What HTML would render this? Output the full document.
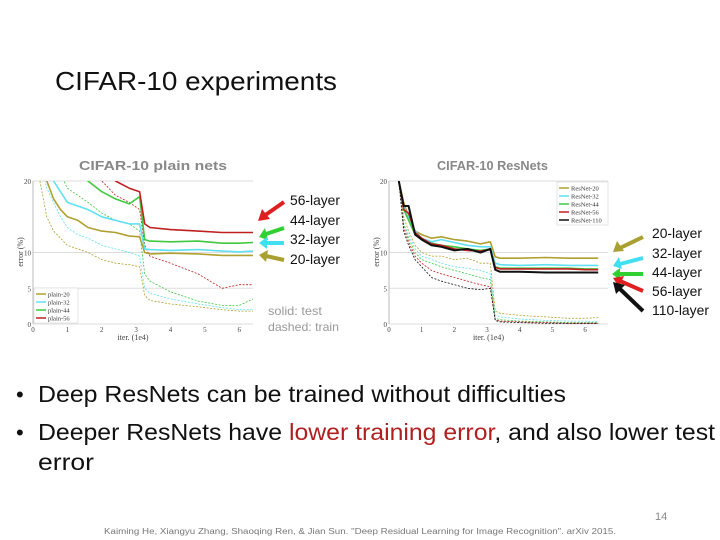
<!DOCTYPE html>
<html><head><meta charset="utf-8"><style>
html,body{margin:0;padding:0;background:#fff}
svg{display:block;font-family:"Liberation Sans",sans-serif}
</style></head><body>
<svg id="s" width="720" height="540" viewBox="0 0 720 540">
<text x="55" y="90" font-size="26" fill="#111" textLength="282" lengthAdjust="spacingAndGlyphs">CIFAR-10 experiments</text>

<text x="79" y="170" font-size="12.5" font-weight="bold" fill="#888" textLength="148" lengthAdjust="spacingAndGlyphs">CIFAR-10 plain nets</text>
<text x="437" y="170" font-size="12.5" font-weight="bold" fill="#888" textLength="111" lengthAdjust="spacingAndGlyphs">CIFAR-10 ResNets</text>

<g id="left"></g>
<g id="right"></g>

<g font-size="14" fill="#111">
<text x="290" y="205" textLength="50" lengthAdjust="spacingAndGlyphs">56-layer</text>
<text x="290" y="225" textLength="50" lengthAdjust="spacingAndGlyphs">44-layer</text>
<text x="290" y="244" textLength="50" lengthAdjust="spacingAndGlyphs">32-layer</text>
<text x="290" y="264" textLength="50" lengthAdjust="spacingAndGlyphs">20-layer</text>
</g>
<g stroke-width="4">
<line x1="284" y1="202" x2="264" y2="216" stroke="#e02020"/><polygon points="258,221 262,209 270,219" fill="#e02020"/>
<line x1="284" y1="228" x2="266" y2="234" stroke="#30d030"/><polygon points="259,237 265,228 268,240" fill="#30d030"/>
<line x1="284" y1="243" x2="266" y2="243" stroke="#40e0f0"/><polygon points="259,243 267,237 267,249" fill="#40e0f0"/>
<line x1="284" y1="260" x2="266" y2="256" stroke="#a8a030"/><polygon points="259,255 268,250 266,262" fill="#a8a030"/>
</g>
<text x="268" y="315" font-size="12" fill="#999" textLength="54" lengthAdjust="spacingAndGlyphs">solid: test</text>
<text x="268" y="331" font-size="12" fill="#999" textLength="71" lengthAdjust="spacingAndGlyphs">dashed: train</text>

<g font-size="14" fill="#111">
<text x="652" y="238" textLength="50" lengthAdjust="spacingAndGlyphs">20-layer</text>
<text x="652" y="258" textLength="50" lengthAdjust="spacingAndGlyphs">32-layer</text>
<text x="652" y="277" textLength="50" lengthAdjust="spacingAndGlyphs">44-layer</text>
<text x="652" y="296" textLength="50" lengthAdjust="spacingAndGlyphs">56-layer</text>
<text x="652" y="315" textLength="57" lengthAdjust="spacingAndGlyphs">110-layer</text>
</g>
<g stroke-width="4">
<line x1="643" y1="237" x2="620" y2="248" stroke="#a8a030"/><polygon points="613,252 617,241 624,251" fill="#a8a030"/>
<line x1="643" y1="258" x2="620" y2="264" stroke="#40e0f0"/><polygon points="613,266 619,257 622,269" fill="#40e0f0"/>
<line x1="643" y1="274" x2="619" y2="274" stroke="#30d030"/><polygon points="612,274 620,268 620,280" fill="#30d030"/>
<line x1="643" y1="291" x2="620" y2="281" stroke="#e02020"/><polygon points="613,278 624,276 619,287" fill="#e02020"/>
<line x1="643" y1="311" x2="620" y2="289" stroke="#111"/><polygon points="613,282 625,285 616,294" fill="#111"/>
</g>

<text x="16" y="402" font-size="22" fill="#111">•</text>
<text x="38" y="402" font-size="23" fill="#111" textLength="528" lengthAdjust="spacingAndGlyphs">Deep ResNets can be trained without difficulties</text>
<text x="16" y="440" font-size="22" fill="#111">•</text>
<text x="38" y="440" font-size="23" fill="#111" textLength="677" lengthAdjust="spacingAndGlyphs">Deeper ResNets have <tspan fill="#b02020">lower training error</tspan>, and also lower test</text>
<text x="38" y="470" font-size="23" fill="#111" textLength="56" lengthAdjust="spacingAndGlyphs">error</text>
<text x="655" y="520" font-size="11" fill="#888">14</text>
<text x="104" y="534" font-size="8" fill="#777" textLength="512" lengthAdjust="spacingAndGlyphs">Kaiming He, Xiangyu Zhang, Shaoqing Ren, &amp; Jian Sun. "Deep Residual Learning for Image Recognition". arXiv 2015.</text>
</svg>
<script>
// ---- plain nets data (iter in 1e4, error %) ----
const plainIters = [0.2,0.4,0.6,0.8,1.0,1.3,1.6,2.0,2.4,2.8,3.1,3.25,3.4,4.0,4.8,5.5,6.0,6.4];
const plain20Test  = [23,20,17.5,16,15,14.5,13.5,13,12.8,12.3,12.2,10,9.8,9.9,9.8,9.6,9.6,9.6];
const plain32Test  = [26,24,20,18.5,17,16.5,16,15,14.5,14,14,10.5,10.4,10.3,10.4,10.2,10.1,10.2];
const plain44Test  = [30,28,26,25,24,22,20,18.5,17.5,16.8,17.8,11.8,11.6,11.5,11.6,11.3,11.3,11.4];
const plain56Test  = [32,30,28,27,26,25,24,22,20,19,18.5,14,13.5,13.2,13,12.8,12.8,12.8];
const plain20Train = [20,15,13,12,11,10.5,10,9,8.5,8.3,8,4,3.3,2.8,2.4,2.0,1.8,1.8];
const plain32Train = [23,19,17,15,13.5,12.5,12,11,10.5,10,9.5,5,4.3,3.5,2.8,2.3,2.0,2.0];
const plain44Train = [28,25,23,21,19,18,17,15.5,14.5,14,13,7,6,4.5,3.2,2.6,2.6,3.5];
const plain56Train = [32,30,28,26,24,23,21.5,20,18,17,16,11,9.5,8.5,7,5,5.5,5.5];
// ---- resnets data ----
const resIters = [0.3,0.45,0.6,0.8,1.0,1.3,1.6,2.0,2.4,2.8,3.1,3.25,3.4,4.0,4.8,5.5,6.0,6.4];
const res20Test  = [20,17,15,13,12.5,12,12.2,11.8,11.6,11.2,11.5,9.4,9.2,9.2,9.3,9.2,9.2,9.2];
const res32Test  = [20,16.5,15,13,12,11.5,11.8,11.4,11,10.8,10.8,8.5,8.3,8.2,8.3,8.2,8.2,8.2];
const res44Test  = [20,16,14.5,12.5,11.8,11.3,11,10.8,10.5,10.3,10.5,8,7.8,7.8,7.8,7.8,7.7,7.7];
const res56Test  = [20,16,15.5,12.8,12,11.2,11,10.5,10.3,10.2,10.4,7.9,7.7,7.7,7.7,7.7,7.6,7.6];
const res110Test = [20,16.5,16.5,12.5,11.8,11,10.8,10.3,10.5,10,10.5,7.6,7.3,7.3,7.2,7.2,7.2,7.2];
const res20Train  = [20,15,13,11,10,9.5,9.5,9,9.2,8.5,8.5,1.8,1.5,1.2,1.0,0.8,0.8,0.9];
const res32Train  = [20,14,12.5,10.5,9.5,9,8.5,8,7.8,7.5,7,1.2,1.0,0.7,0.5,0.4,0.4,0.3];
const res44Train  = [20,14,12,10,9,8.5,8,7.5,7,6.5,6.2,0.8,0.6,0.4,0.3,0.2,0.2,0.2];
const res56Train  = [20,13.5,11.5,9.5,8.5,7.5,7,6.5,6,5.5,5.2,0.6,0.4,0.3,0.2,0.1,0.1,0.1];
const res110Train = [20,13,11,9,8,6.5,6,5.5,5,4.8,5,0.5,0.3,0.2,0.1,0.1,0.1,0.1];
const yTicks = [0,5,10,20];
const xTicks = [0,1,2,3,4,5,6];

const NS="http://www.w3.org/2000/svg";
function mk(tag,attrs,parent){const e=document.createElementNS(NS,tag);for(const k in attrs)e.setAttribute(k,attrs[k]);parent.appendChild(e);return e;}

function chart(g,x0,x1,xmax,legend,series,xs,clipId,legendBox){
  const yTop=181,yBot=324;
  const X=v=>x0+(v)/xmax*(x1-x0);
  const Y=v=>yBot-v/20*(yBot-yTop);
  const defs=mk('defs',{},g);
  const cp=mk('clipPath',{id:clipId},defs);
  mk('rect',{x:x0,y:yTop,width:x1-x0,height:yBot-yTop},cp);
  yTicks.forEach(t=>{
    const l=mk('line',{x1:x0,x2:x1,y1:Y(t),y2:Y(t),stroke:'#ddd','stroke-width':1},g);
    
    
    const tx=mk('text',{x:x0-2,y:Y(t)+3,'font-size':7,fill:'#444','text-anchor':'end','font-family':'Liberation Serif'},g);
    tx.textContent=t;
    
    
  });
  mk('line',{x1:x0,x2:x0,y1:yTop,y2:yBot,stroke:'#bbb'},g);
  xTicks.forEach(t=>{
    const tx=mk('text',{x:X(t),y:yBot+8,'font-size':7,fill:'#444','text-anchor':'middle','font-family':'Liberation Serif'},g);
    tx.textContent=t;
    
    
  });
  const xl=mk('text',{x:(x0+x1)/2-10,y:yBot+16,'font-size':8,fill:'#444','text-anchor':'middle','font-family':'Liberation Serif'},g);
  xl.textContent='iter. (1e4)';
  
  
  const yl=mk('text',{x:0,y:0,'font-size':8,fill:'#444','text-anchor':'middle','font-family':'Liberation Serif',transform:`translate(${x0-10},252) rotate(-90)`},g);
  yl.textContent='error (%)';
  
  
  const sg=mk('g',{'clip-path':`url(#${clipId})`},g);
  series.forEach(s=>{
    const d=s.v.map((v,i)=>(i?'L':'M')+X(xs[i]).toFixed(1)+','+Y(v).toFixed(1)).join(' ');
    const p=mk('path',{d,fill:'none',stroke:s.c,'stroke-width':s.dash?0.8:(s.w||1.6),'stroke-dasharray':s.dash?'2,1.5':'none','stroke-linejoin':'round'},sg);
    
    
  });
  const lb=mk('g',{},g);
  
  
  mk('rect',{x:legendBox[0],y:legendBox[1],width:legendBox[2],height:legend.length*8+3,fill:'#fff',stroke:'#ccc','stroke-width':0.5},lb);
  legend.forEach((e,i)=>{
    const yy=legendBox[1]+6+i*8;
    mk('line',{x1:legendBox[0]+2,x2:legendBox[0]+12,y1:yy,y2:yy,stroke:e[1],'stroke-width':1.5},lb);
    const t=mk('text',{x:legendBox[0]+14,y:yy+2.5,'font-size':6.5,fill:'#333','font-family':'Liberation Serif'},lb);
    t.textContent=e[0];
    
    
  });
}
const C20='#b0a030',C32='#60e0f0',C44='#40c840',C56='#c02020',C110='#111';
chart(document.getElementById('left'),33,253,6.4,
  [['plain-20',C20],['plain-32',C32],['plain-44',C44],['plain-56',C56]],
  [{n:'plain-20-train',v:plain20Train,c:C20,dash:1},{n:'plain-32-train',v:plain32Train,c:C32,dash:1},
   {n:'plain-44-train',v:plain44Train,c:C44,dash:1},{n:'plain-56-train',v:plain56Train,c:C56,dash:1},
   {n:'plain-20-test',v:plain20Test,c:C20},{n:'plain-32-test',v:plain32Test,c:C32},
   {n:'plain-44-test',v:plain44Test,c:C44},{n:'plain-56-test',v:plain56Test,c:C56}],
  plainIters,'clipL',[34,288,44]);
chart(document.getElementById('right'),389,608,6.7,
  [['ResNet-20',C20],['ResNet-32',C32],['ResNet-44',C44],['ResNet-56',C56],['ResNet-110',C110]],
  [{n:'res-20-train',v:res20Train,c:C20,dash:1},{n:'res-32-train',v:res32Train,c:C32,dash:1},
   {n:'res-44-train',v:res44Train,c:C44,dash:1},{n:'res-56-train',v:res56Train,c:C56,dash:1},
   {n:'res-110-train',v:res110Train,c:C110,dash:1},
   {n:'res-20-test',v:res20Test,c:C20},{n:'res-32-test',v:res32Test,c:C32},
   {n:'res-44-test',v:res44Test,c:C44},{n:'res-56-test',v:res56Test,c:C56},
   {n:'res-110-test',v:res110Test,c:C110,w:2}],
  resIters,'clipR',[557,182,51]);
</script>
</body></html>
